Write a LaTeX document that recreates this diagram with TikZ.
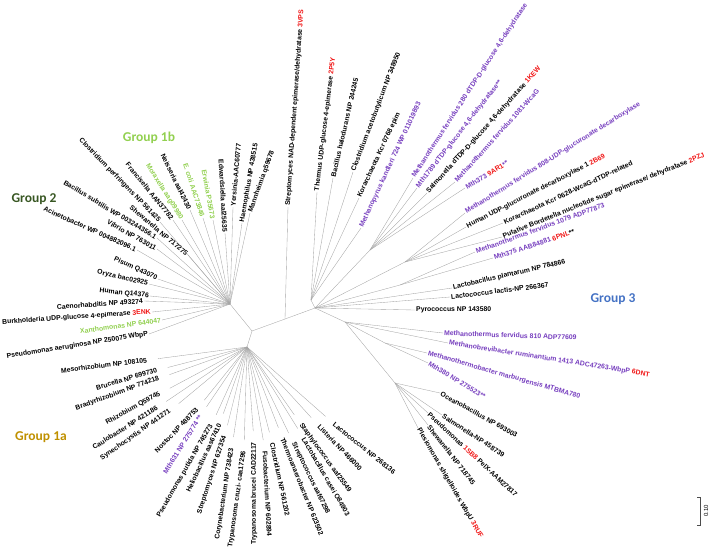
\documentclass[tikz,border=0pt]{standalone}
\usepackage{fontspec}
\setmainfont{Liberation Sans}
\newfontfamily\grpfont{Carlito}
\usepackage{xcolor}
\usepackage{tikz}
\definecolor{archaea}{RGB}{118,62,190}
\definecolor{pdbred}{RGB}{240,20,20}
\definecolor{lgreen}{RGB}{146,208,80}
\definecolor{dgreen}{RGB}{56,87,35}
\definecolor{gblue}{RGB}{68,114,196}
\definecolor{gold}{RGB}{191,144,0}
\definecolor{branch}{RGB}{165,165,165}
\newcommand{\pdbid}[1]{\textcolor{pdbred}{#1}}

\begin{document}
\begin{tikzpicture}[x=1pt, y=-1pt,
    br/.style={draw=branch, line width=0.35pt},
    gap/.style={br, shorten >=10pt},
    lab/.style={font=\fontsize{6.85}{7}\selectfont\bfseries, inner sep=1pt},
    lw/.style={lab, anchor=west, rotate=#1},
    le/.style={lab, anchor=east, rotate=#1},
    grp/.style={font=\grpfont\fontsize{13.5}{15}\selectfont\bfseries}]
        \useasboundingbox (0,0) rectangle (709,549);

        % inner nodes of the tree
        \coordinate (A) at (252,331);
        \coordinate (S) at (285,319);
        \coordinate (B) at (315,308);
        \coordinate (C) at (247,347);
        \coordinate (D) at (230,304);
        \coordinate (H) at (311,300);
        \coordinate (J) at (370,250);
        \coordinate (K) at (405,262);
        \coordinate (L) at (400,285);
        \coordinate (E) at (345,322);
        \coordinate (E2) at (385,343);
        \coordinate (G) at (395,383);
        \draw[br] (A) -- (S) -- (B);
        \draw[br] (A) -- (D);
        \draw[br] (A) -- (C);
        \draw[br] (B) -- (H);
        \draw[br] (B) -- (J);
        \draw[br] (B) -- (K);
        \draw[br] (B) -- (L);
        \draw[br] (B) -- (E) -- (G);
        \draw[br] (E) -- (E2);

        % Group 2 and Group 1b
        \node[le=-24] (acin) at (137,250) {Acinetobacter WP 004882096.1};
        \node[le=-29] (vibr) at (157,249) {Vibrio NP 763011};
        \node[le=-31] (bsub) at (157,238) {Bacillus subtilis WP 003244356.1};
        \node[le=-40] (shew) at (188,255) {Shewanella NP 717275};
        \node[le=-46] (cper) at (160,222) {Clostridium perfringens NP 561425};
        \node[le=-51] (fran) at (173,220) {Francisella AAN37782};
        \node[le=-58, lgreen] (mora) at (182,220) {Moraxella aag09980};
        \node[le=-64] (neis) at (190,210) {Neisseria aal42430};
        \node[le=-72, lgreen] (ecol) at (203,218) {E. coli AAC73846};
        \node[le=-80, lgreen] (erwi) at (213,220) {Erwinia P35673};
        \node[le=-87] (edwa) at (225,233) {Edwardsiella aal25635};
        \node[lw=85] (yers) at (233,207) {Yersinia-AAC60777};
        \node[lw=80] (haem) at (242,223) {Haemophilus NP 438515};
        \node[lw=70] (mann) at (250,213) {Mannheimia q59678};
        \node[le=-25] (pisu) at (158,279) {Pisum Q43070};
        \node[le=-13] (oryz) at (149,284) {Oryza bac02925};
        \node[le=-6] (humq) at (150,296) {Human Q14376};
        \node[le=4] (caen) at (144,301) {Caenorhabditis NP 493274};
        \node[le=4] (burk) at (152,312) {Burkholderia UDP-glucose 4-epimerase \pdbid{3ENK}};
        \node[le=8, lgreen] (xant) at (162,320) {Xanthomonas NP 644047};
        \node[le=9] (paer) at (149,334) {Pseudomonas aeruginosa NP 250075 WbpP};
        \foreach \n/\a in {acin/east, vibr/east, bsub/east, shew/east, cper/east, fran/east,
            mora/east, neis/east, ecol/east, erwi/east, edwa/east, yers/west, haem/west,
            mann/west, pisu/east, oryz/east, humq/east, caen/east, burk/east, xant/east, paer/east}
          \draw[br] (D) -- (\n.\a);

        % Streptomyces branch
        \node[lw=86] (svps) at (288,207) {Streptomyces NAD-dependent epimerase/dehydratase \pdbid{3VPS}};
        \draw[br] (S) -- (svps.west);

        % Group 3, upper part
        \node[lw=83] (ther) at (317,192) {Thermus UDP-glucose 4-epimerase \pdbid{2P5Y}};
        \node[lw=77] (bhal) at (333,178) {Bacillus halodurans NP 244245};
        \node[lw=69] (cace) at (353,172) {Clostridium acetobutylicum NP 348950};
        \node[lw=65] (kor1) at (359,198) {Korarchaeota Kcr 0768 epim};
        \node[lw=65, archaea] (mkan) at (361,228) {Methanopyrus kandleri 724 WP 011019893};
        \foreach \n in {ther, bhal, cace, kor1, mkan}
          \draw[br] (H) -- (\n.west);
        \node[lw=57, archaea] (mf280) at (413,178) {Methanothermus fervidus 280 dTDP-D-glucose 4,6-dehydratase};
        \node[lw=52, archaea] (m1789) at (417,188) {Mth1789 dTDP-glucose 4,6-dehydratase**};
        \node[lw=48] (salk) at (427,193) {Salmonella dTDP-D-glucose 4,6-dehydratase \pdbid{1KEW}};
        \node[lw=48, archaea] (mf1081) at (455,182) {Methanothermus fervidus 1081-WcaG};
        \node[lw=31, archaea] (m373) at (465,188) {Mth373 \pdbid{9AR1}**};
        \foreach \n in {mf280, m1789, salk, mf1081, m373}
          \draw[br] (J) -- (\n.west);
        \node[lw=32, archaea] (mf808) at (465,213) {Methanothermus fervidus 808-UDP-glucuronate decarboxylase};
        \node[lw=27] (hudc) at (466,227) {Human UDP-glucuronate decarboxylase 1 \pdbid{2B69}};
        \node[lw=25] (kor2) at (503,223) {Korarchaeota Kcr 0628-WcaG-dTDP-related};
        \node[lw=22] (bord) at (502,237) {Putative Bordetella nucleotide sugar epimerase/ dehydratase \pdbid{2PZJ}};
        \foreach \n in {mf808, hudc, kor2, bord}
          \draw[br] (K) -- (\n.west);
        \node[lw=20, archaea] (mf1079) at (475,252) {Methanothermus fervidus 1079 ADP77873};
        \node[lw=18, archaea] (m375) at (493,258) {Mth375 AAB84881 \pdbid{6PNL}\textcolor{black}{**}};
        \foreach \n in {mf1079, m375}
          \draw[br] (L) -- (\n.west);
        \node[lw=13] (lpla) at (452,288) {Lactobacillus plantarum NP 784866};
        \node[lw=7] (llac) at (450,297) {Lactococcus lactis-NP 266367};
        \node[lw=0] (pyro) at (415,310) {Pyrococcus NP 143580};
        \foreach \n in {lpla, llac, pyro}
          \draw[br] (B) -- (\n.west);

        % Group 3, lower part
        \node[lw=-2, archaea] (mf810) at (443,333) {Methanothermus fervidus 810 ADP77609};
        \node[lw=-9, archaea] (mrum) at (448,343) {Methanobrevibacter ruminantium 1413 ADC47263-WbpP \pdbid{6DNT}};
        \draw[br] (E) -- (mf810.west);
        \draw[br] (E) -- (mrum.west);
        \node[lw=-16, archaea] (mmar) at (427,353) {Methanothermobacter marburgensis MTBMA780};
        \node[lw=-31, archaea] (m380) at (428,363) {Mth380 NP 275523**};
        \draw[br] (E2) -- (mmar.west);
        \draw[br] (E2) -- (m380.west);
        \node[lw=-29] (ocea) at (440,393) {Oceanobacillus NP 693003};
        \node[lw=-33] (saln) at (442,415) {Salmonella-NP 458739};
        \node[lw=-43] (psb8) at (428,413) {Pseudomonas \pdbid{1SB8} PelX-AAM27817};
        \node[lw=-52] (shen) at (428,425) {Shewanella NP 718745};
        \node[lw=-60] (ples) at (418,428) {Plesiomonas shigelloides WbpU \pdbid{3RUF}};
        \foreach \n in {ocea, saln, psb8, shen, ples}
          \draw[br] (G) -- (\n.west);

        % Group 1a
        \node[le=7] (meso) at (148,360) {Mesorhizobium NP 108105};
        \node[le=16] (bruc) at (158,370) {Brucella NP 699730};
        \node[le=20] (brad) at (160,378) {Bradyrhizobium NP 774218};
        \node[le=29] (rhiz) at (161,393) {Rhizobium Q59745};
        \node[le=32] (caul) at (158,407) {Caulobacter NP 421186};
        \node[le=35] (syne) at (171,410) {Synechocystis NP 441271};
        \node[le=46] (nost) at (198,408) {Nostoc NP 488753};
        \node[le=58, archaea] (m631) at (201,415) {Mth631 NP 275774 **};
        \node[le=60] (pput) at (212,424) {Pseudomonas putida NP 745273};
        \node[le=65] (heli) at (220,423) {Heliobacillus aas67410};
        \node[le=72] (stre) at (225,435) {Streptomyces NP 627354};
        \node[le=81] (cory) at (232,447) {Corynebacterium NP 738423};
        \node[le=82] (tcru) at (244,450) {Trypanosoma cruzi- caa17296};
        \node[le=90] (tbru) at (254,441) {Trypanosoma brucei CAD22117};
        \node[lw=-87] (fuso) at (265,450) {Fusobacterium NP 602894};
        \node[lw=-78] (clos) at (272,442) {Clostridium NP 561202};
        \node[lw=-68] (ther2) at (282,437) {Thermoanaerobacter NP 623502};
        \node[lw=-64] (strc) at (293,442) {Streptococcus aaf67298};
        \node[lw=-60] (lcas) at (303,437) {Lactobacillus casei O84903};
        \node[lw=-54] (stap) at (300,423) {Staphylococcus aaf25549};
        \node[lw=-46] (list) at (318,425) {Listeria NP 466000};
        \node[lw=-39] (lact) at (333,423) {Lactococcus NP 268136};
        \foreach \n/\a in {meso/east, bruc/east, brad/east, rhiz/east, caul/east, syne/east,
            nost/east, m631/east, pput/east, heli/east, stre/east, cory/east, tcru/east,
            tbru/east, fuso/west, clos/west, ther2/west, strc/west, lcas/west, stap/west,
            list/west, lact/west}
          \draw[gap] (C) -- (\n.\a);

        % group names
        \node[grp, lgreen] (g1b) at (149,138) {Group 1b};
        \node[grp, dgreen] (g2) at (34,199) {Group 2};
        \node[grp, gblue] (g3) at (613,299) {Group 3};
        \node[grp, gold] (g1a) at (41,437) {Group 1a};

        % scale bar
        \coordinate (sbt) at (700,497);
        \coordinate (sbb) at (700,525);
        \draw[black!70, line width=0.4pt] ([xshift=-3pt]sbt) -- (sbt) -- (sbb) -- ([xshift=-3pt]sbb);
        \node[font=\fontsize{6}{7}\selectfont, rotate=90, inner sep=1pt] (sbl) at (706,511) {0.10};
      \end{tikzpicture}
\end{document}
